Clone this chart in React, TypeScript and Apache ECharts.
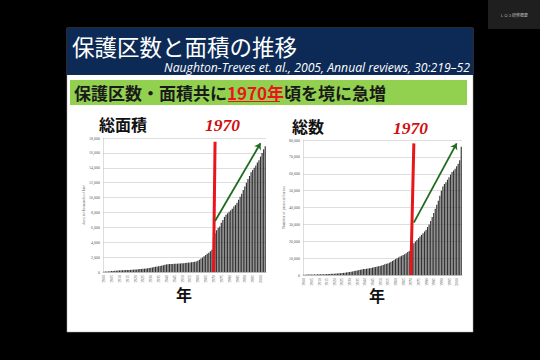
import React, { useEffect, useRef } from "react";
import * as echarts from "echarts";

const years: string[] = Array.from({ length: 104 }, (_, i) => String(1900 + i));

// Total area (thousand km²), 1900-2003
const areaValues: number[] = [
  50, 60, 70, 80, 100, 120, 140, 160, 180, 200,
  220, 230, 240, 250, 260, 270, 280, 290, 300, 310,
  330, 350, 370, 390, 410, 430, 450, 480, 510, 540,
  580, 620, 660, 700, 740, 780, 820, 870, 920, 980,
  1020, 1050, 1070, 1080, 1090, 1100, 1110, 1120, 1130, 1150,
  1170, 1190, 1210, 1230, 1260, 1290, 1320, 1350, 1380, 1420,
  1500, 1650, 1800, 1950, 2100, 2300, 2450, 2600, 2800, 3000,
  4600, 5200, 5600, 5900, 6100, 6600, 7000, 7400, 7700, 7900,
  8100, 8300, 8500, 8800, 9000, 9300, 9700, 10100, 10500, 11000,
  11500, 12000, 12500, 12900, 13400, 13700, 14000, 14300, 14700, 15000,
  15500, 16000, 16500, 16900,
];

// Number of protected areas, 1900-2003
const countValues: number[] = [
  200, 220, 240, 260, 280, 300, 320, 340, 370, 400,
  420, 440, 460, 480, 500, 540, 580, 620, 680, 740,
  800, 860, 920, 980, 1050, 1150, 1250, 1400, 1550, 1700,
  1800, 1950, 2100, 2300, 2500, 2700, 2900, 3100, 3300, 3500,
  3600, 3700, 3850, 4000, 4200, 4400, 4600, 4800, 5000, 5200,
  5400, 5700, 6000, 6300, 6600, 6800, 7200, 7700, 8300, 8900,
  9400, 9900, 10400, 10900, 11400, 11800, 12300, 12900, 13600, 14200,
  16500, 17800, 18800, 19800, 20800, 21800, 22800, 23800, 24800, 25800,
  26800, 28400, 30000, 32000, 34400, 36800, 39300, 41600, 44000, 47000,
  50000, 52500, 54000, 55000, 56500, 58000, 59500, 61000, 62000, 63000,
  64500, 66000, 68000, 76000,
];

// Annotation anchors: [category, value]
const areaRedLine: [string, number][] = [["1970", 0], ["1971", 17500]];
const areaArrow: [string, number][] = [["1971", 6850], ["2000", 17300]];
const countRedLine: [string, number][] = [["1970", 0], ["1972", 78000]];
const countArrow: [string, number][] = [["1972", 31000], ["2000", 78000]];

const titleText = "保護区数と面積の推移";
const citeText = "Naughton-Treves et. al., 2005, Annual reviews, 30:219–52";
const leftLabel = "総面積";
const rightLabel = "総数";
const yearMark = "1970";
const xName = "年";

const JP = "'Noto Sans CJK JP', 'Noto Sans', sans-serif";

const fmt = (v: number) => String(v).replace(/\B(?=(\d{3})+(?!\d))/g, ",");

function makeXAxis(gridIndex: number) {
  return {
    type: "category",
    gridIndex,
    data: years,
    axisTick: { show: false },
    axisLine: { show: true, lineStyle: { color: "#999", width: 0.5 } },
    axisLabel: {
      interval: 4,
      rotate: 90,
      fontSize: 4,
      color: "#555",
      margin: 3,
      fontFamily: "Liberation Serif",
    },
  };
}

function makeYAxis(gridIndex: number, max: number, interval: number, name: string) {
  return {
    type: "value",
    gridIndex,
    min: 0,
    max,
    interval,
    name,
    nameLocation: "middle",
    nameGap: 15,
    nameTextStyle: { fontSize: 4, color: "#666", fontFamily: "Liberation Serif" },
    axisLine: { show: true, lineStyle: { color: "#bbb", width: 0.5 } },
    axisTick: { show: false },
    splitLine: { show: true, lineStyle: { color: "#c8c8c8", width: 0.6 } },
    axisLabel: {
      fontSize: 4,
      color: "#555",
      margin: 3,
      fontFamily: "Liberation Serif",
      formatter: (v: number) => fmt(v),
    },
  };
}

function annotations(red: [string, number][], arrow: [string, number][]) {
  return {
    silent: true,
    animation: false,
    label: { show: false },
    emphasis: { disabled: true },
    data: [
      [
        { coord: red[0], symbol: "none", lineStyle: { color: "#e8161b", width: 3, type: "solid" } },
        { coord: red[1], symbol: "none" },
      ],
      [
        { coord: arrow[0], symbol: "none", lineStyle: { color: "#1d6b1d", width: 1.8, type: "solid" } },
        { coord: arrow[1], symbol: "arrow", symbolSize: 6 },
      ],
    ],
  };
}

export default function App() {
  const ref = useRef<HTMLDivElement>(null);

  useEffect(() => {
    if (!ref.current) return;
    const chart = echarts.init(ref.current, undefined, { renderer: "svg" });
    const option: any = {
      animation: false,
      backgroundColor: "#000",
      graphic: [
        { type: "rect", z: -10, shape: { x: 488, y: 0, width: 52, height: 29 }, style: { fill: "#1f1f1f" } },
        { type: "text", z: 5, x: 514, y: 15, style: { text: "ＬＯ３研修概要", fontSize: 4, fill: "#bbb", align: "center", verticalAlign: "middle", fontFamily: JP } },
        { type: "rect", z: -10, shape: { x: 67, y: 28, width: 406, height: 304 }, style: { fill: "#fff", stroke: "#aaa", lineWidth: 0.5 } },
        { type: "rect", z: -9, shape: { x: 67, y: 28, width: 406, height: 47 }, style: { fill: "#0c2a55" } },
        { type: "rect", z: -9, shape: { x: 70, y: 80, width: 397, height: 25 }, style: { fill: "#92d050" } },
        { type: "text", z: 5, x: 72, y: 46, style: { text: titleText, fontSize: 22.5, fill: "#fff", fontFamily: JP, verticalAlign: "middle" } },
        { type: "text", z: 5, x: 470, y: 67, style: { text: citeText, fontSize: 12.2, fontStyle: "italic", fill: "#fff", fontFamily: "'Open Sans', sans-serif", align: "right", verticalAlign: "middle" } },
        {
          type: "text", z: 5, x: 74, y: 92,
          style: {
            text: "{a|保護区数・面積共に}{b|1970年}{a|頃を境に急増}",
            verticalAlign: "middle",
            rich: {
              a: { fontSize: 17, fontWeight: "bold", fill: "#1a1a1a", fontFamily: JP },
              b: { fontSize: 17, fontWeight: "bold", fill: "#e8161b", fontFamily: JP },
            },
          },
        },
        { type: "line", z: 5, shape: { x1: 228, y1: 101.5, x2: 280, y2: 101.5 }, style: { stroke: "#e8161b", lineWidth: 1.2 } },
        { type: "text", z: 5, x: 99, y: 124, style: { text: leftLabel, fontSize: 16, fontWeight: "bold", fill: "#111", fontFamily: JP, verticalAlign: "middle" } },
        { type: "text", z: 5, x: 205, y: 125, style: { text: yearMark, fontSize: 17.5, fontWeight: "bold", fontStyle: "italic", fill: "#d01010", fontFamily: "'Liberation Serif', serif", verticalAlign: "middle" } },
        { type: "text", z: 5, x: 292, y: 126, style: { text: rightLabel, fontSize: 16, fontWeight: "bold", fill: "#111", fontFamily: JP, verticalAlign: "middle" } },
        { type: "text", z: 5, x: 393, y: 128, style: { text: yearMark, fontSize: 17.5, fontWeight: "bold", fontStyle: "italic", fill: "#d01010", fontFamily: "'Liberation Serif', serif", verticalAlign: "middle" } },
        { type: "text", z: 5, x: 184, y: 294, style: { text: xName, fontSize: 16, fontWeight: "bold", fill: "#111", fontFamily: JP, align: "center", verticalAlign: "middle" } },
        { type: "text", z: 5, x: 377, y: 295, style: { text: xName, fontSize: 16, fontWeight: "bold", fill: "#111", fontFamily: JP, align: "center", verticalAlign: "middle" } },
      ],
      grid: [
        { left: 103, right: 274, top: 138, bottom: 88 },
        { left: 303, right: 78, top: 140, bottom: 85 },
      ],
      xAxis: [makeXAxis(0), makeXAxis(1)],
      yAxis: [
        makeYAxis(0, 18000, 2000, "Area in thousands of km²"),
        makeYAxis(1, 80000, 10000, "Number of protected areas"),
      ],
      series: [
        {
          type: "bar",
          xAxisIndex: 0,
          yAxisIndex: 0,
          data: areaValues,
          barCategoryGap: "25%",
          itemStyle: { color: "#333" },
          silent: true,
          markLine: annotations(areaRedLine, areaArrow),
        },
        {
          type: "bar",
          xAxisIndex: 1,
          yAxisIndex: 1,
          data: countValues,
          barCategoryGap: "25%",
          itemStyle: { color: "#333" },
          silent: true,
          markLine: annotations(countRedLine, countArrow),
        },
      ],
    };
    chart.setOption(option);
    return () => chart.dispose();
  }, []);

  return (
    <div
      ref={ref}
      style={{ position: "fixed", left: 0, top: 0, width: 540, height: 360 }}
    />
  );
}
